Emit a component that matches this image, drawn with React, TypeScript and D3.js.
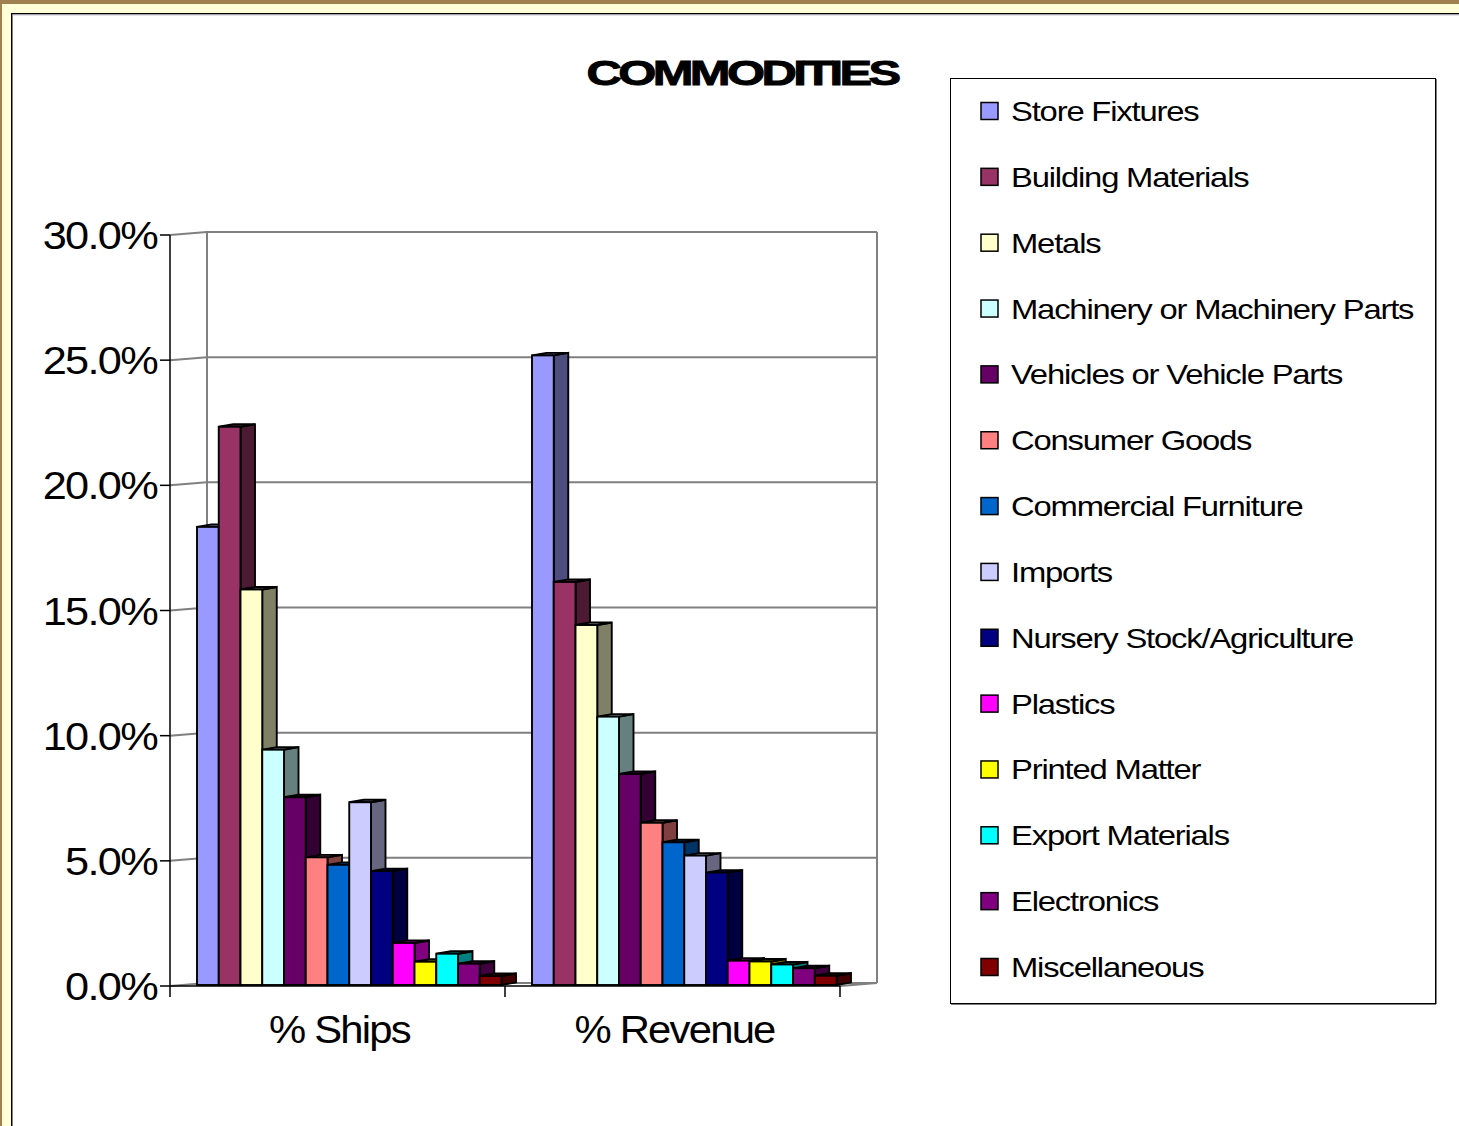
import React from "react";
import * as d3 from "d3";

const categories = ["% Ships", "% Revenue"];
const seriesNames = [
  "Store Fixtures",
  "Building Materials",
  "Metals",
  "Machinery or Machinery Parts",
  "Vehicles or Vehicle Parts",
  "Consumer Goods",
  "Commercial Furniture",
  "Imports",
  "Nursery Stock/Agriculture",
  "Plastics",
  "Printed Matter",
  "Export Materials",
  "Electronics",
  "Miscellaneous",
];
const shipsValues = [18.3, 22.3, 15.8, 9.4, 7.5, 5.1, 4.8, 7.3, 4.55, 1.68, 0.93, 1.25, 0.85, 0.36];
const revenueValues = [25.15, 16.1, 14.38, 10.72, 8.43, 6.48, 5.7, 5.17, 4.49, 0.97, 0.94, 0.82, 0.67, 0.37];
const yTickValues = [0, 5, 10, 15, 20, 25, 30];
const yTickLabels = ["0.0%", "5.0%", "10.0%", "15.0%", "20.0%", "25.0%", "30.0%"];

const frontColors = [
  "#9999FF", "#993366", "#FFFFCC", "#CCFFFF", "#660066", "#FF8080", "#0066CC",
  "#CCCCFF", "#000080", "#FF00FF", "#FFFF00", "#00FFFF", "#800080", "#800000",
];

const FONT = "'Liberation Sans', Arial, Helvetica, sans-serif";

export default function App() {
  const W = 1459;
  const H = 1126;
  const values = [shipsValues, revenueValues];

  const fx0 = 170, fx1 = 840;
  const depthX = 37, depthY = 3;
  const yFront = d3.scaleLinear().domain([0, 30]).range([986, 235]);
  const yBack = (v: number) => yFront(v) - depthY;
  const yBar = d3.scaleLinear().domain([0, 30]).range([985, 234]);

  const xCat = d3.scaleBand<string>().domain(categories).range([fx0, fx1]).padding(0);
  const xSer = d3.scaleBand<string>().domain(seriesNames).range([27, 331.5]).padding(0);
  const bw = xSer.bandwidth();
  const dx = 14.5, dy = 2.5;

  const darken = (c: string, k: number) => {
    const col = d3.rgb(c);
    return d3.rgb(col.r * k, col.g * k, col.b * k).formatHex();
  };

  const bars: React.ReactNode[] = [];
  categories.forEach((cat, ci) => {
    seriesNames.forEach((s, si) => {
      const v = values[ci][si];
      const x0 = (xCat(cat) as number) + (xSer(s) as number);
      const x1 = x0 + bw;
      const yt = yBar(v);
      const yb = yBar(0);
      const col = frontColors[si];
      const side = `${x1},${yt} ${x1 + dx},${yt - dy} ${x1 + dx},${yb - dy} ${x1},${yb}`;
      const top = `${x0},${yt} ${x0 + dx},${yt - dy} ${x1 + dx},${yt - dy} ${x1},${yt}`;
      bars.push(
        <g key={`${ci}-${si}`} stroke="#000" strokeWidth={1.9} strokeLinejoin="miter">
          <polygon points={side} fill={darken(col, 0.5)} />
          <polygon points={top} fill={darken(col, 0.6)} />
          <rect x={x0} y={yt} width={bw} height={yb - yt} fill={col} />
        </g>
      );
    });
  });

  const gridColor = "#808080";

  const legendX = 950, legendY = 78, legendW = 485, legendH = 925;
  const legendItemY = d3.scaleLinear().domain([0, seriesNames.length - 1]).range([111, 967]);

  return (
    <div style={{ position: "absolute", left: 0, top: 0 }}>
      <svg width={W} height={H} viewBox={`0 0 ${W} ${H}`} style={{ display: "block" }}>
        <rect x={0} y={0} width={W} height={H} fill="#A08050" />
        <rect x={2} y={4} width={W} height={H} fill="#FFFFD8" />
        <rect x={11} y={13} width={W} height={H} fill="#000" />
        <rect x={12.5} y={14.5} width={W} height={H} fill="#fff" />
        <line x1={12.5} y1={15} x2={W} y2={15} stroke="#C8C8D4" strokeWidth={1.2} />

        <g transform="translate(742,85) scale(1.4,1.02)">
          <text x={0} y={0} textAnchor="middle" fontFamily={FONT} fontWeight="bold" fontSize={35} letterSpacing={-2.6} stroke="#000" strokeWidth={0.9}>
            COMMODITIES
          </text>
        </g>

        <g fill="none" stroke={gridColor} strokeWidth={2}>
          {yTickValues.map((t) => (
            <polyline
              key={`g${t}`}
              points={`${fx0},${yFront(t)} ${fx0 + depthX},${yBack(t)} ${fx1 + depthX},${yBack(t)}`}
            />
          ))}
          <line x1={fx0 + depthX} y1={yBack(30)} x2={fx0 + depthX} y2={yBack(0)} />
          <line x1={fx1 + depthX} y1={yBack(30)} x2={fx1 + depthX} y2={yBack(0)} />
          <line x1={fx1} y1={yFront(0)} x2={fx1 + depthX} y2={yBack(0)} />
        </g>

        {bars}

        <g stroke="#000" strokeWidth={1.5}>
          <line x1={fx0} y1={yFront(30)} x2={fx0} y2={yFront(0)} />
          {yTickValues.map((t) => (
            <line key={`yt${t}`} x1={fx0 - 10} y1={yFront(t)} x2={fx0} y2={yFront(t)} />
          ))}
          <line x1={fx0} y1={yFront(0)} x2={fx1} y2={yFront(0)} />
          {[...categories.map((c) => xCat(c) as number), fx1].map((x, i) => (
            <line key={`xt${i}`} x1={x} y1={yFront(0)} x2={x} y2={yFront(0) + 11} />
          ))}
        </g>

        {yTickValues.map((t, i) => (
          <g key={`yl${t}`} transform={`translate(157,${yFront(t) + 14}) scale(1.14,1)`}>
            <text x={0} y={0} textAnchor="end" fontFamily={FONT} fontSize={38} letterSpacing={-1.5}>
              {yTickLabels[i]}
            </text>
          </g>
        ))}

        {categories.map((c) => (
          <g key={`cl${c}`} transform={`translate(${(xCat(c) as number) + xCat.bandwidth() / 2 + 2},1043) scale(1.1,1)`}>
            <text x={0} y={0} textAnchor="middle" fontFamily={FONT} fontSize={38} letterSpacing={-1.6}>
              {c}
            </text>
          </g>
        ))}

        <line x1={legendX + legendW + 1} y1={legendY + 1} x2={legendX + legendW + 1} y2={legendY + legendH + 1} stroke="#808080" strokeWidth={2} />
        <line x1={legendX + 1} y1={legendY + legendH + 1} x2={legendX + legendW + 1} y2={legendY + legendH + 1} stroke="#808080" strokeWidth={2} />
        <rect x={legendX + 0.5} y={legendY + 0.5} width={legendW} height={legendH} fill="#fff" stroke="#000" strokeWidth={1} />
        {seriesNames.map((s, i) => {
          const cy = legendItemY(i);
          return (
            <g key={`lg${i}`}>
              <rect x={981} y={cy - 8.5} width={17} height={17} fill={frontColors[i]} stroke="#000" strokeWidth={1.5} />
              <g transform={`translate(1011,${cy + 10}) scale(1.17,1)`}>
                <text x={0} y={0} fontFamily={FONT} fontSize={28} letterSpacing={-1}>
                  {s}
                </text>
              </g>
            </g>
          );
        })}
      </svg>
    </div>
  );
}
